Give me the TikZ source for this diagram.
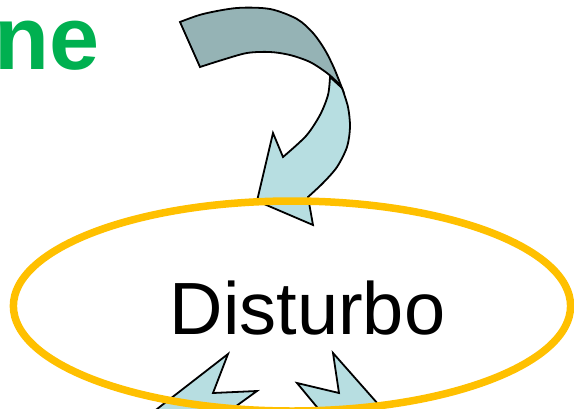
\documentclass[tikz,border=0pt]{standalone}
\usepackage{fontspec}
\setmainfont{Liberation Sans}
\definecolor{lightc}{RGB}{183,222,225}
\definecolor{darkc}{RGB}{149,179,181}
\definecolor{ringc}{RGB}{255,192,0}
\definecolor{greenc}{RGB}{0,176,80}
\begin{document}
\begin{tikzpicture}[x=1pt,y=-1pt,
  arrowline/.style={draw=black,line width=1.8pt,line join=miter},
  ring/.style={draw=ringc,line width=7.5pt}]
\useasboundingbox (0,0) rectangle (574,408);
\clip (0,0) rectangle (574,408);
% curved arrow: light (head) part
\filldraw[fill=lightc, arrowline] (330,77)
  -- plot[smooth] coordinates {(330,77) (328,95) (320,115) (306,136) (283,157)}
  -- (273,133) -- (257,201) -- (313,225) -- (308,197)
  -- plot[smooth] coordinates {(308,197) (323,183) (337,167) (347,147) (350,127) (348,107) (342,88)}
  -- cycle;
% curved arrow: dark (tail) part
\filldraw[fill=darkc, arrowline] (180,22) -- (200,67)
  -- plot[smooth] coordinates {(200,67) (222,60) (247,53) (270,52) (290,55) (310,62) (327,73) (337,82) (342,88)}
  -- plot[smooth] coordinates {(342,88) (334,68) (325,50) (313,33) (297,19) (270,9) (237,8) (203,14) (180,22)}
  -- cycle;
% bottom arrows
\filldraw[fill=lightc, arrowline] (228,354) -- (213,393) -- (257,391) -- (203,430) -- (130,430) -- cycle;
\filldraw[fill=lightc, arrowline] (333,353) -- (401,430) -- (336,430) -- (297,383) -- (339,393) -- cycle;
% ellipse
\draw[ring] (292,306) ellipse [x radius=278.6, y radius=105];
% texts
\node[font=\fontsize{74}{80}\selectfont, anchor=base] (dist) at (307.5,334) {Disturbo};
\node[font=\fontsize{90}{96}\selectfont\bfseries, text=greenc, anchor=base east, inner sep=0pt] (ne) at (100,69) {ne};
\end{tikzpicture}
\end{document}
